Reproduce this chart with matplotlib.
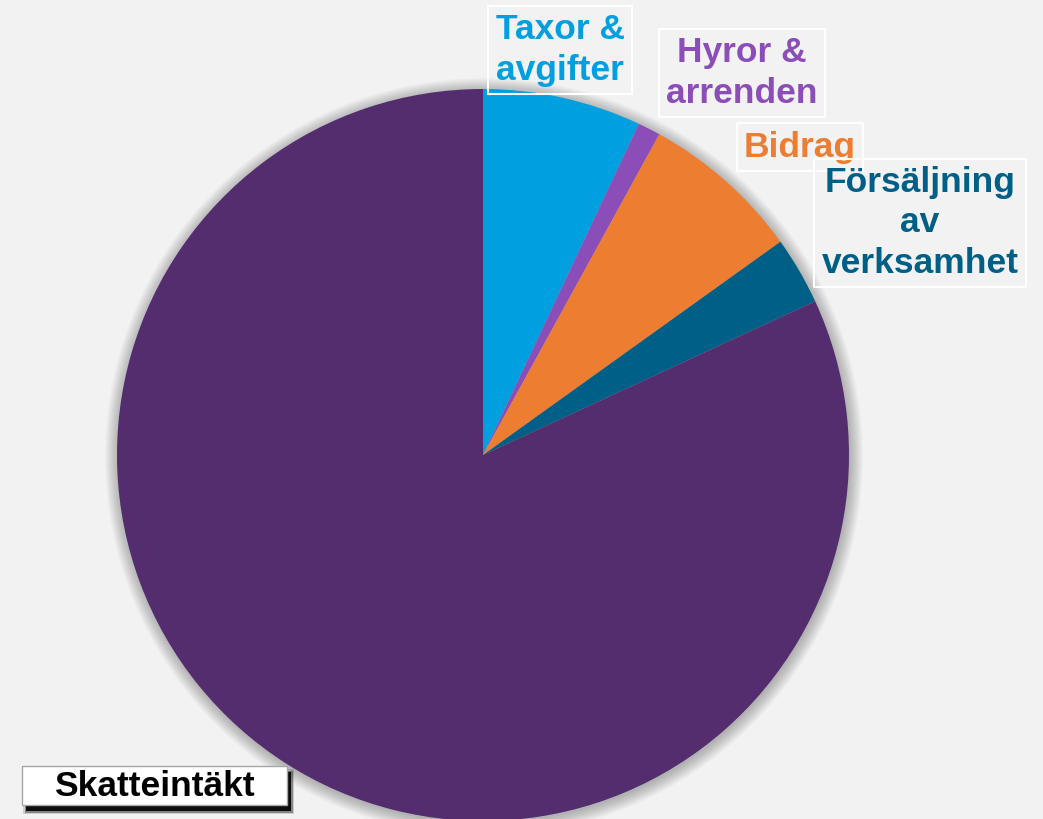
import matplotlib.pyplot as plt
from matplotlib.patches import Circle, Rectangle

plt.rcParams['font.family'] = ['Liberation Sans', 'DejaVu Sans']

# share of revenue (%), clockwise from 12 o'clock
labels = ['Taxor &\navgifter', 'Hyror &\narrenden', 'Bidrag',
          'Försäljning\nav\nverksamhet', 'Skatteintäkt']
values = [7.0, 1.0, 7.1, 3.0, 81.9]
colors = ['#009fdf', '#8b4db8', '#ed7d31', '#005f87', '#532d6d']

bg = '#f2f2f2'
W, H = 1043, 819
fig = plt.figure(figsize=(W / 100, H / 100), dpi=100, facecolor=bg)
ax = fig.add_axes([0, 0, 1, 1])

cx, cy, r = 483, H - 455, 366

# soft shadow round the pie
for i in range(14):
    ax.add_patch(Circle((cx + 1, cy - 2), r + 13 - i, color='black',
                        alpha=0.018, lw=0, zorder=0))

ax.pie(values, colors=colors, startangle=90, counterclock=False,
       center=(cx, cy), radius=r, frame=True,
       wedgeprops=dict(linewidth=0))
ax.set_xlim(0, W)
ax.set_ylim(0, H)
ax.set_aspect('equal')
ax.axis('off')

# label boxes (centre positions in pixels from top-left)
label_pos = [(560, 50), (742, 73), (800, 147), (920, 223)]
for lab, col, (x, y) in zip(labels[:4], colors[:4], label_pos):
    ax.text(x, H - y, lab, color=col, fontsize=25.5, fontweight='bold',
            ha='center', va='center', linespacing=1.28, zorder=5,
            bbox=dict(boxstyle='square,pad=0.2', fc='none', ec='white', lw=1.5))

# Skatteintäkt label with drop shadow
bx0, by0, bw, bh = 22, 766, 265, 39
for k, a in [(0, 0.9), (1.5, 0.35), (3, 0.15)]:
    ax.add_patch(Rectangle((bx0 + 4 - k, H - by0 - bh - 6 - k), bw + 2 * k, bh + 2 * k,
                           fc='black', ec='none', alpha=a, zorder=6))
ax.add_patch(Rectangle((bx0, H - by0 - bh), bw, bh, fc='white', ec='#a6a6a6',
                       lw=1, zorder=7))
ax.text(bx0 + bw / 2, H - by0 - bh / 2 - 1, labels[4], color='black', fontsize=25.5,
        fontweight='bold', ha='center', va='center', zorder=8)

fig.savefig('out.png', dpi=100, facecolor=bg)
